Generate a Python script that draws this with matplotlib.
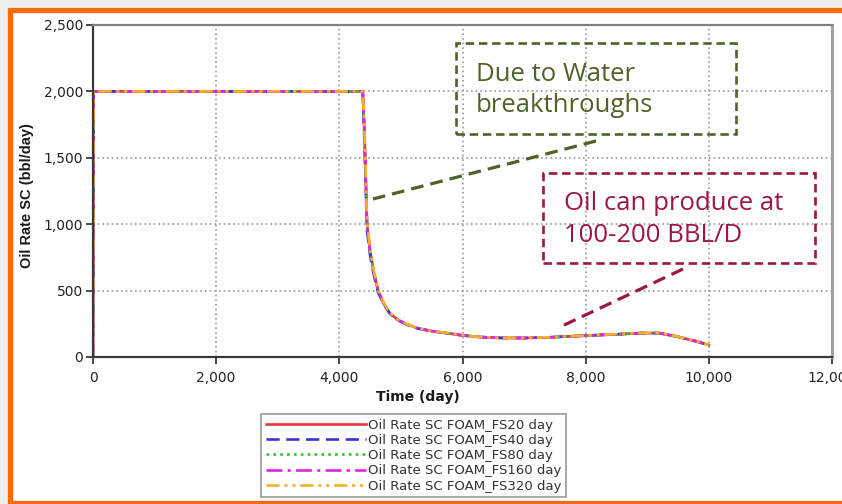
import matplotlib
matplotlib.use("Agg")
import matplotlib.pyplot as plt
from matplotlib.patches import Rectangle
from matplotlib.lines import Line2D
from matplotlib.ticker import FuncFormatter

# ---- data -------------------------------------------------------------
days = [0, 10, 4380, 4400, 4420, 4450, 4500, 4560, 4630, 4720, 4820, 4950,
        5100, 5260, 5500, 5750, 6000, 6300, 6600, 7000, 7400, 7800, 8200,
        8600, 8900, 9200, 9500, 9800, 10000]

rate_fs20 = [0, 2000, 2000, 1800, 1500, 1000, 800, 640, 500, 405, 330, 280,
             245, 218, 195, 180, 163, 150, 144, 143, 148, 157, 165,
             173, 180, 180, 152, 118, 90]
rate_fs40 = [0, 2000, 2000, 1720, 1420, 950, 765, 615, 485, 398, 326, 278,
             243, 216, 194, 179, 162, 150, 144, 143, 148, 157, 165,
             173, 180, 180, 152, 118, 90]
rate_fs80 = [0, 2000, 2000, 1790, 1490, 995, 798, 638, 499, 404, 329, 280,
             245, 218, 195, 180, 163, 150, 144, 143, 148, 157, 165,
             173, 180, 180, 152, 118, 90]
rate_fs160 = [0, 2000, 2000, 1780, 1480, 990, 795, 636, 498, 404, 329, 279,
              244, 217, 195, 180, 163, 150, 144, 143, 148, 157, 165,
              173, 180, 180, 152, 118, 90]
rate_fs320 = [0, 2000, 2000, 1820, 1530, 1020, 810, 648, 506, 410, 333, 282,
              246, 219, 196, 181, 164, 151, 145, 144, 149, 158, 166,
              174, 181, 181, 153, 119, 91]

series_labels = ["Oil Rate SC FOAM_FS20 day", "Oil Rate SC FOAM_FS40 day",
                 "Oil Rate SC FOAM_FS80 day", "Oil Rate SC FOAM_FS160 day",
                 "Oil Rate SC FOAM_FS320 day"]
series_rates = [rate_fs20, rate_fs40, rate_fs80, rate_fs160, rate_fs320]

x_ticks = [0, 2000, 4000, 6000, 8000, 10000, 12000]
y_ticks = [0, 500, 1000, 1500, 2000, 2500]

note_water = ["Due to Water", "breakthroughs"]
note_oil = ["Oil can produce at", "100-200 BBL/D"]

# ---- styling ----------------------------------------------------------
colors = ["#e8383d", "#3434d8", "#2fc42f", "#e024e0", "#f5b02a"]
styles = ["-", (0, (5, 2.5)), (0, (1, 1.6)), (0, (6, 2, 1.2, 2)),
          (0, (5, 1.8, 1.2, 1.8, 1.2, 1.8))]

W, H = 842, 504


def px(x, y):
    """pixel position (from top-left) -> figure fraction"""
    return x / W, 1 - y / H


fig = plt.figure(figsize=(W / 100, H / 100), dpi=100, facecolor="#efefef")

# orange slide frame (behind everything else)
x0, y0 = px(9.5, 503)
x1, y1 = px(860, 9.5)
fig.patches.append(Rectangle((x0, y0), x1 - x0, y1 - y0, transform=fig.transFigure,
                             facecolor="white", edgecolor="#ff6a00", lw=3.8,
                             zorder=-5))

left, top = px(93, 25)
right, bottom = px(832, 357)
ax = fig.add_axes([left, bottom, right - left, top - bottom])
ax.set_facecolor("white")

for rates, lab, col, ls in zip(series_rates, series_labels, colors, styles):
    ax.plot(days, rates, color=col, linestyle=ls, lw=1.9, label=lab)

ax.set_xlim(0, 12000)
ax.set_ylim(0, 2500)
fmt = FuncFormatter(lambda v, p: f"{v:,.0f}")
ax.set_xticks(x_ticks)
ax.set_yticks(y_ticks)
ax.xaxis.set_major_formatter(fmt)
ax.yaxis.set_major_formatter(fmt)

ax.grid(True, color="#999999", linestyle=(0, (1, 1.8)), lw=1.2)
ax.set_axisbelow(True)

for side in ("left", "bottom"):
    ax.spines[side].set_color("#3a3a3a")
    ax.spines[side].set_linewidth(1.6)
ax.spines["top"].set_color("#808080")
ax.spines["top"].set_linewidth(1.6)
ax.spines["right"].set_color("#a0a0a0")
ax.spines["right"].set_linewidth(2.2)

ax.tick_params(axis="both", direction="out", length=5, width=1.3,
               color="#3a3a3a", labelsize=10, labelcolor="#222222")
ax.tick_params(axis="y", pad=2)
ax.tick_params(axis="x", pad=5)
for lbl in ax.get_xticklabels() + ax.get_yticklabels():
    lbl.set_fontfamily("DejaVu Sans")

# axis titles
fig.text(*px(27, 196), "Oil Rate SC (bbl/day)", rotation=90, ha="center",
         va="center", fontsize=10.5, fontweight="bold",
         family="Liberation Sans", color="#1a1a1a")
fig.text(*px(418, 397), "Time (day)", ha="center", va="center",
         fontsize=10, fontweight="bold", family="DejaVu Sans", color="#1a1a1a")

# legend
leg = fig.legend(loc="upper center", bbox_to_anchor=px(413.5, 414),
                 fontsize=9.5, handlelength=7.6, handletextpad=0.15,
                 labelspacing=0.17, borderpad=0.35, borderaxespad=0,
                 fancybox=False, frameon=True)
leg.get_frame().set_edgecolor("#8a8a8a")
leg.get_frame().set_linewidth(1.3)
for t in leg.get_texts():
    t.set_color("#333333")

# call-out boxes
green = "#4f6228"
maroon = "#9c1747"


def callout(box, lines, color, text_x, baselines, pointer):
    bx0, by0, bx1, by1 = box
    fx0, fy0 = px(bx0, by1)
    fx1, fy1 = px(bx1, by0)
    fig.patches.append(Rectangle((fx0, fy0), fx1 - fx0, fy1 - fy0,
                                 transform=fig.transFigure, fill=False,
                                 edgecolor=color, lw=1.9,
                                 linestyle=(0, (3.2, 1.8)), zorder=5))
    for s, b in zip(lines, baselines):
        fig.text(*px(text_x, b), s, ha="left", va="baseline", fontsize=18.5,
                 family="Open Sans", color=color, zorder=6)
    (ax_, ay_), (bx_, by_) = pointer
    p0, p1 = px(ax_, ay_), px(bx_, by_)
    fig.lines.append(Line2D([p0[0], p1[0]], [p0[1], p1[1]],
                            transform=fig.transFigure, color=color, lw=2.3,
                            linestyle=(0, (4, 2.2)), zorder=6))


callout((456, 43, 736, 134), note_water, green, 476, [81, 112],
        ((596, 141), (373, 199)))
callout((543, 173, 815, 263), note_oil, maroon, 564, [210, 242],
        ((683, 269), (560, 327)))

fig.savefig("out.png", dpi=100, facecolor=fig.get_facecolor())
